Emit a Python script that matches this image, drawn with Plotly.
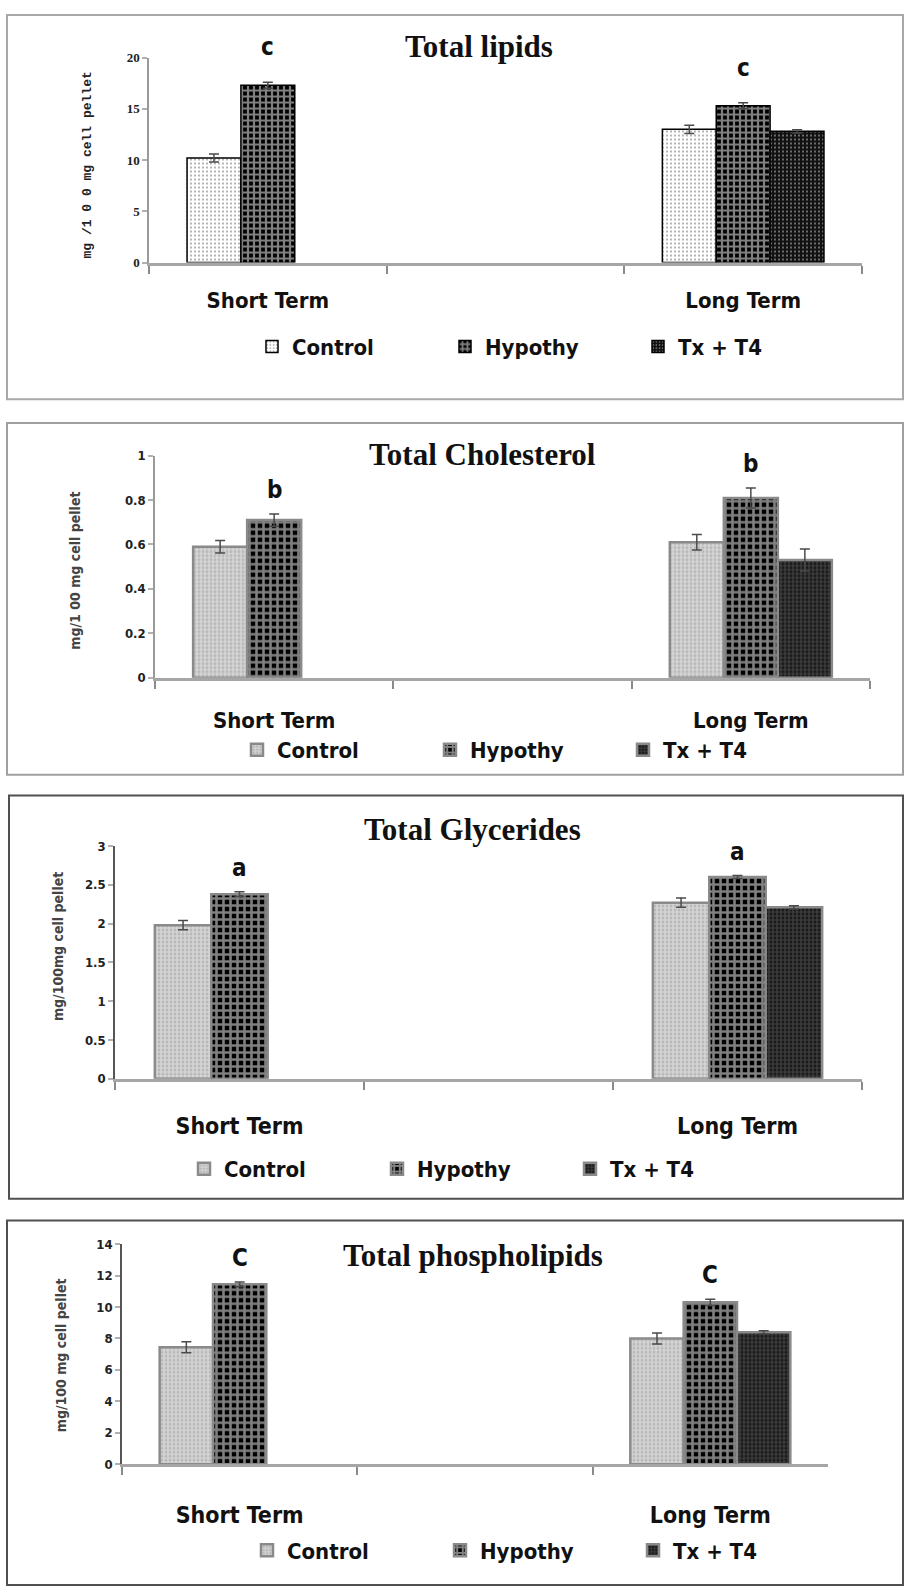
import plotly.graph_objects as go

W, H = 905, 1594

categories = ["Short Term", " ", "Long Term"]
groups = ["Control", "Hypothy", "Tx + T4"]

titles = ["Total lipids", "Total Cholesterol", "Total Glycerides", "Total phospholipids"]
y_titles = ["mg /1 0 0 mg cell pellet", "mg/1 00 mg cell pellet", "mg/100mg cell pellet", "mg/100 mg cell pellet"]
letters = ["c", "b", "a", "C"]
y_max = [20, 1, 3, 14]
y_step = [5, 0.2, 0.5, 2]

# values per category: [Short Term, (empty), Long Term]
lipids_control = [10.2, None, 13.0]
lipids_hypothy = [17.3, None, 15.3]
lipids_tx = [None, None, 12.8]
lipids_control_err = [0.4, None, 0.4]
lipids_hypothy_err = [0.3, None, 0.3]
lipids_tx_err = [None, None, 0.15]

chol_control = [0.59, None, 0.61]
chol_hypothy = [0.71, None, 0.81]
chol_tx = [None, None, 0.53]
chol_control_err = [0.028, None, 0.035]
chol_hypothy_err = [0.028, None, 0.045]
chol_tx_err = [None, None, 0.05]

glyc_control = [1.98, None, 2.27]
glyc_hypothy = [2.38, None, 2.60]
glyc_tx = [None, None, 2.21]
glyc_control_err = [0.06, None, 0.06]
glyc_hypothy_err = [0.03, None, 0.02]
glyc_tx_err = [None, None, 0.02]

phos_control = [7.45, None, 8.0]
phos_hypothy = [11.45, None, 10.3]
phos_tx = [None, None, 8.4]
phos_control_err = [0.35, None, 0.35]
phos_hypothy_err = [0.15, None, 0.2]
phos_tx_err = [None, None, 0.1]

values = [
    (lipids_control, lipids_hypothy, lipids_tx),
    (chol_control, chol_hypothy, chol_tx),
    (glyc_control, glyc_hypothy, glyc_tx),
    (phos_control, phos_hypothy, phos_tx),
]
errors = [
    (lipids_control_err, lipids_hypothy_err, lipids_tx_err),
    (chol_control_err, chol_hypothy_err, chol_tx_err),
    (glyc_control_err, glyc_hypothy_err, glyc_tx_err),
    (phos_control_err, phos_hypothy_err, phos_tx_err),
]

# ---- layout geometry (pixels) ----
panels = [
    dict(ax=(149, 862), ay=(258, 51), box=(7, 8, 903, 396), boxc="#a8a8a8",
         title=(479, 40), ytitle=(87, 160), legend=(252, 343), standoff=16, lshift=19,
         catsize=22),
    dict(ax=(155, 870), ay=(677, 453), box=(7, 420, 903, 775), boxc="#a0a0a0",
         title=(482, 452), ytitle=(75, 569), legend=(237, 750), standoff=21, lshift=8,
         catsize=22),
    dict(ax=(115, 862), ay=(1082, 847), box=(9, 796, 903, 1203), boxc="#505050",
         title=(472, 830), ytitle=(58, 949), legend=(184, 1173), standoff=25, lshift=8,
         catsize=23),
    dict(ax=(122, 828), ay=(1471, 1249), box=(7, 1225, 903, 1593), boxc="#505050",
         title=(473, 1260), ytitle=(61, 1361), legend=(247, 1558), standoff=28, lshift=8,
         catsize=23),
]

def px(x):
    return x / W

def py(y):
    return 1 - y / H

SERIF = "Liberation Serif, Times New Roman, serif"
NARROW = "DejaVu Sans Condensed, Liberation Sans Narrow, Arial Narrow, Liberation Sans, sans-serif"

patterns_p1 = [
    dict(shape=".", fgcolor="#333333", bgcolor="white", size=4, solidity=0.18),
    dict(shape="+", fgcolor="white", bgcolor="black", size=6, solidity=0.6),
    dict(shape=".", fgcolor="white", bgcolor="#111111", size=4, solidity=0.2),
]
patterns_p = [
    dict(shape="+", fgcolor="white", bgcolor="#b8b8b8", size=4, solidity=0.5),
    dict(shape="+", fgcolor="white", bgcolor="black", size=7, solidity=0.6),
    dict(shape="+", fgcolor="#6a6a6a", bgcolor="#1a1a1a", size=4, solidity=0.5),
]

fig = go.Figure()
shapes = []
annotations = []

for i, p in enumerate(panels):
    n = "" if i == 0 else str(i + 1)
    xa, ya = "x" + n, "y" + n
    leg = "legend" + n
    pats = patterns_p1 if i == 0 else patterns_p
    line = dict(color="black", width=1.5) if i == 0 else dict(color="#8a8a8a", width=2.5)
    for g, name in enumerate(groups):
        fig.add_trace(go.Bar(
            x=categories, y=values[i][g], name=name,
            xaxis=xa, yaxis=ya, legend=leg,
            marker=dict(pattern=pats[g], line=line, color=pats[g]["bgcolor"]),
            error_y=dict(type="data", array=errors[i][g], color="#4a4a4a",
                         thickness=1.5, width=5),
        ))

    tickfont_x = dict(family=NARROW, size=p["catsize"], color="#111", weight="bold")
    xkw = dict(
        domain=[px(p["ax"][0]), px(p["ax"][1])],
        anchor=ya, type="category", categoryorder="array", categoryarray=categories,
        range=[-0.5, 2.5], showline=True, linecolor="#a6a6a6", linewidth=3,
        ticks="outside", tickson="boundaries", ticklen=8, tickwidth=1.5, tickcolor="#8a8a8a",
        showgrid=False, zeroline=False, tickfont=tickfont_x, ticklabelstandoff=p["standoff"],
    )
    ykw = dict(
        domain=[py(p["ay"][0]), py(p["ay"][1])],
        anchor=xa, range=[0, y_max[i]], dtick=y_step[i], tick0=0,
        showline=True, linecolor="#9a9a9a" if i < 2 else "#555555", linewidth=1.5,
        ticks="outside", ticklen=5, tickcolor="#b0b0b0", tickwidth=1.5,
        showgrid=False, zeroline=False,
        tickfont=dict(family=SERIF if i == 0 else NARROW, size=13, color="#222", weight="bold"),
    )
    fig.update_layout(**{"xaxis" + n: xkw, "yaxis" + n: ykw})

    fig.update_layout(**{leg: dict(
        orientation="h", x=px(p["legend"][0]), y=py(p["legend"][1]),
        xanchor="left", yanchor="middle", entrywidth=148, entrywidthmode="pixels",
        font=dict(family=NARROW, size=22, color="#111", weight="bold"), bgcolor="rgba(0,0,0,0)",
        itemclick=False, itemdoubleclick=False, tracegroupgap=0,
    )})

    b = p["box"]
    shapes.append(dict(type="rect", xref="paper", yref="paper",
                       x0=px(b[0]), x1=px(b[2]), y0=py(b[3]), y1=py(b[1]),
                       line=dict(color=p["boxc"], width=2), fillcolor="rgba(0,0,0,0)", layer="below"))

    annotations.append(dict(
        xref="paper", yref="paper", x=px(p["title"][0]), y=py(p["title"][1]),
        text="<b>" + titles[i] + "</b>", showarrow=False, xanchor="center", yanchor="middle",
        font=dict(family=SERIF, size=31, color="#111")))
    annotations.append(dict(
        xref="paper", yref="paper", x=px(p["ytitle"][0]), y=py(p["ytitle"][1]),
        text="<b>" + y_titles[i] + "</b>", showarrow=False, textangle=-90,
        xanchor="center", yanchor="middle",
        font=dict(family="Liberation Mono, monospace" if i == 0 else NARROW,
                  size=13 if i == 0 else 14, color="#222" if i == 0 else "#444")))
    hyp, herr = values[i][1], errors[i][1]
    for k, c in enumerate(categories):
        if hyp[k] is None:
            continue
        annotations.append(dict(
            xref=xa, yref=ya, x=c, y=hyp[k] + herr[k], yanchor="bottom", yshift=p["lshift"],
            text="<b>" + letters[i] + "</b>", showarrow=False,
            font=dict(family=NARROW, size=24, color="#111")))

fig.update_layout(
    width=W, height=H, margin=dict(l=0, r=0, t=0, b=0),
    paper_bgcolor="white", plot_bgcolor="white",
    barmode="group", bargap=0.32, bargroupgap=0,
    shapes=shapes, annotations=annotations, showlegend=True,
)

fig.write_html("out.html", config={"displayModeBar": False},
               post_script="document.body.style.margin='0px';")
